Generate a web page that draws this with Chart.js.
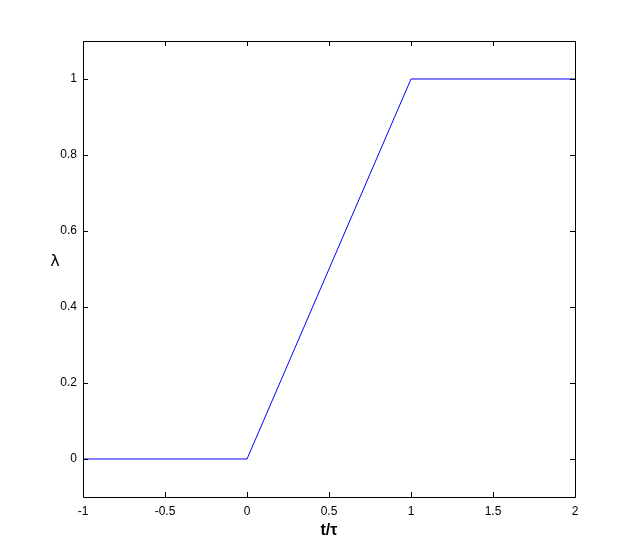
<!DOCTYPE html>
<html><head><meta charset="utf-8">
<script src="https://cdn.jsdelivr.net/npm/chart.js@4/dist/chart.umd.min.js"></script>
<style>html,body{margin:0;padding:0;background:#fff}#w{width:635px;height:558px}</style>
</head><body><div id="w"><canvas id="c"></canvas></div>
<script>
const xValues = [-1, 0, 1, 2];
const lambdaValues = [0, 0, 1, 1];
const xTickValues = [-1, -0.5, 0, 0.5, 1, 1.5, 2];
const yTickValues = [0, 0.2, 0.4, 0.6, 0.8, 1];
const xTitle = 't/τ';
const yTitle = 'λ';

const FONT = '"Liberation Sans", Arial, sans-serif';

const framePlugin = {
  id: 'frame',
  afterDraw(chart) {
    const {ctx, chartArea: a, scales: {x, y}} = chart;
    ctx.save();
    ctx.strokeStyle = '#000';
    ctx.lineWidth = 1;
    ctx.beginPath();
    ctx.rect(Math.round(a.left) + 0.5, Math.round(a.top) + 0.5, Math.round(a.right - a.left), Math.round(a.bottom - a.top));
    ctx.stroke();
    const L = 5;
    ctx.beginPath();
    xTickValues.forEach(v => {
      const px = Math.round(x.getPixelForValue(v)) + 0.5;
      ctx.moveTo(px, a.bottom); ctx.lineTo(px, a.bottom - L);
      ctx.moveTo(px, a.top); ctx.lineTo(px, a.top + L);
    });
    yTickValues.forEach(v => {
      const py = Math.round(y.getPixelForValue(v)) + 0.5;
      ctx.moveTo(a.left, py); ctx.lineTo(a.left + L, py);
      ctx.moveTo(a.right, py); ctx.lineTo(a.right - L, py);
    });
    ctx.stroke();
    ctx.fillStyle = '#000';
    ctx.textAlign = 'center';
    ctx.textBaseline = 'middle';
    ctx.font = 'bold 16px ' + FONT;
    ctx.fillText(xTitle, (a.left + a.right) / 2, 531);
    ctx.font = '16px "DejaVu Sans", ' + FONT;
    ctx.fillText(yTitle, 55, 262);
    ctx.restore();
  }
};

new Chart(document.getElementById('c'), {
  type: 'line',
  data: {
    datasets: [{
      data: xValues.map((v, i) => ({x: v, y: lambdaValues[i]})),
      borderColor: '#0000ff',
      borderWidth: 1,
      pointRadius: 0,
      tension: 0,
      fill: false
    }]
  },
  options: {
    responsive: true,
    maintainAspectRatio: false,
    animation: false,
    events: [],
    layout: {padding: {top: 41, right: 60, left: 0, bottom: 0}},
    plugins: {legend: {display: false}, tooltip: {enabled: false}},
    scales: {
      x: {
        type: 'linear', min: -1, max: 2,
        afterBuildTicks: s => { s.ticks = xTickValues.map(v => ({value: v})); },
        afterFit: s => { s.height = 61; },
        grid: {display: false, drawTicks: false}, border: {display: false},
        ticks: {color: '#000', font: {family: FONT, size: 12}, padding: 7, maxRotation: 0,
          callback: v => String(v)}
      },
      y: {
        type: 'linear', min: -0.1, max: 1.1,
        afterBuildTicks: s => { s.ticks = yTickValues.map(v => ({value: v})); },
        afterFit: s => { s.width = 83; },
        grid: {display: false, drawTicks: false}, border: {display: false},
        ticks: {color: '#000', font: {family: FONT, size: 12}, padding: 6,
          callback: v => String(v)}
      }
    }
  },
  plugins: [framePlugin]
});
</script>
</body></html>
